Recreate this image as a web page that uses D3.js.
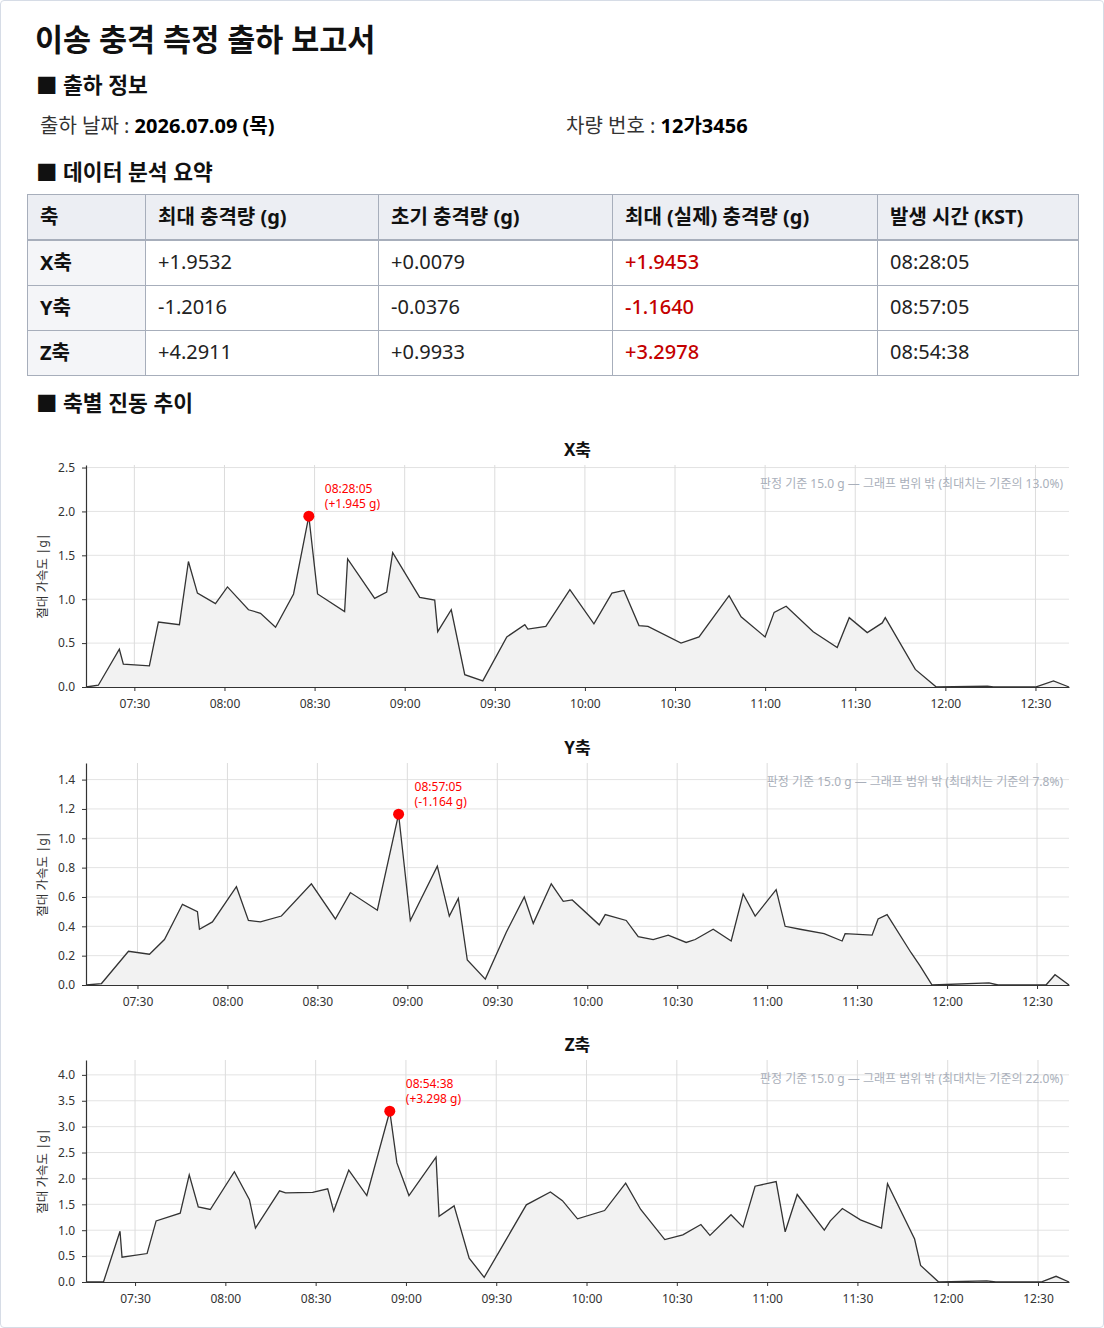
<!DOCTYPE html>
<html>
<head>
<meta charset="utf-8">
<script src="https://cdn.jsdelivr.net/npm/d3@7"></script>
<style>
body { margin: 0; background: #fff; font-family: "Noto Sans", "Noto Sans CJK KR", sans-serif; color: #111; }
#page { position: relative; width: 1102px; height: 1326px; border: 1px solid #d6dce6; border-radius: 4px; background: #fff; overflow: hidden; }
.h { position: absolute; left: 34px; white-space: nowrap; font-weight: bold; }
.title { top: 18px; font-size: 30.5px; line-height: 40px; }
.sec { font-size: 21.5px; line-height: 30px; left: 35px; }
.info { position: absolute; top: 110px; font-size: 20px; line-height: 30px; color: #333; white-space: nowrap; }
.info b { color: #000; }
table { position: absolute; left: 26px; top: 193px; width: 1051px; border-collapse: collapse; font-size: 20px; table-layout: fixed; }
th, td { border: 1px solid #a7aebb; padding: 0 12px 3px 12px; text-align: left; white-space: nowrap; }
th { background: #eceef3; height: 41px; border-bottom: 2px solid #a7aebb; }
td { height: 41px; color: #222; }
td.ax { background: #f4f5f8; font-weight: bold; color: #111; }
td.peak { color: #c40000; font-weight: 500; }
svg text { font-family: "Noto Sans", "Noto Sans CJK KR", sans-serif; }
</style>
</head>
<body>
<div id="page"></div>
<script>
// 출하 정보
const shipDate = "2026.07.09 (목)";
const vehicleNo = "12가3456";

// 요약 표
const tableHeaders = ["축", "최대 충격량 (g)", "초기 충격량 (g)", "최대 (실제) 충격량 (g)", "발생 시간 (KST)"];
const axisNames = ["X축", "Y축", "Z축"];
const maxImpact = ["+1.9532", "-1.2016", "+4.2911"];
const initImpact = ["+0.0079", "-0.0376", "+0.9933"];
const realPeak = [1.9453, -1.1640, 3.2978];
const peakTimes = ["08:28:05", "08:57:05", "08:54:38"];
const threshold = 15.0;

// 축별 진동 추이 (절대 가속도 |g|)
const xTimes = ["07:13:54","07:18:00","07:25:00","07:26:20","07:35:00","07:38:00","07:45:00","07:48:00","07:51:00","07:57:00",
  "08:01:00","08:08:00","08:12:00","08:17:00","08:23:00","08:28:05","08:31:00","08:40:00","08:41:00","08:50:00",
  "08:54:00","08:56:00","09:05:00","09:10:00","09:11:00","09:15:30","09:20:00","09:26:00","09:34:00","09:40:00",
  "09:41:00","09:47:00","09:55:00","10:03:00","10:09:00","10:13:00","10:18:00","10:21:00","10:32:00","10:38:00",
  "10:48:00","10:52:00","11:00:00","11:03:00","11:07:00","11:16:00","11:24:00","11:28:00","11:34:00","11:39:00",
  "11:40:00","11:50:00","11:57:00","12:14:00","12:16:00","12:30:00","12:36:00","12:41:10"];
const xVals = [0.0,0.02,0.43,0.26,0.24,0.74,0.71,1.43,1.07,0.95,
  1.14,0.88,0.84,0.68,1.06,1.9453,1.06,0.86,1.46,1.01,
  1.08,1.53,1.02,0.99,0.63,0.88,0.14,0.07,0.57,0.71,
  0.66,0.69,1.11,0.72,1.07,1.10,0.70,0.69,0.50,0.57,
  1.04,0.80,0.57,0.85,0.92,0.63,0.45,0.79,0.62,0.73,
  0.79,0.20,0.0,0.01,0.0,0.0,0.07,0.0];

const yTimes = ["07:12:50","07:18:00","07:27:00","07:34:00","07:39:00","07:45:00","07:50:00","07:50:40","07:55:00","08:03:00",
  "08:07:00","08:11:00","08:18:00","08:28:00","08:36:00","08:41:00","08:50:00","08:57:05","09:01:00","09:10:00",
  "09:14:00","09:17:00","09:20:00","09:26:00","09:33:00","09:39:00","09:42:00","09:48:00","09:52:00","09:55:00",
  "10:04:00","10:06:00","10:13:00","10:17:00","10:22:00","10:27:00","10:33:00","10:36:00","10:42:00","10:48:00",
  "10:52:00","10:56:00","11:03:00","11:06:00","11:11:00","11:19:00","11:25:00","11:26:00","11:35:00","11:37:00",
  "11:40:00","11:48:00","11:51:00","11:55:00","12:14:00","12:17:00","12:33:00","12:36:00","12:40:40"];
const yVals = [0.0,0.01,0.23,0.21,0.31,0.55,0.50,0.38,0.43,0.67,
  0.44,0.43,0.47,0.69,0.45,0.63,0.51,1.164,0.44,0.81,
  0.47,0.59,0.17,0.04,0.36,0.60,0.42,0.69,0.57,0.58,
  0.41,0.48,0.44,0.33,0.31,0.34,0.29,0.31,0.38,0.30,
  0.62,0.47,0.65,0.40,0.38,0.35,0.30,0.35,0.34,0.45,
  0.48,0.22,0.13,0.0,0.015,0.0,0.0,0.07,0.0];

const zTimes = ["07:13:42","07:19:30","07:25:00","07:25:40","07:34:00","07:37:00","07:45:00","07:48:00","07:51:00","07:55:00",
  "08:03:00","08:08:00","08:10:00","08:18:00","08:20:00","08:29:00","08:34:00","08:36:00","08:41:00","08:47:00",
  "08:54:38","08:57:00","09:01:00","09:10:00","09:11:00","09:16:00","09:21:00","09:26:00","09:33:00","09:40:00",
  "09:48:00","09:52:00","09:57:00","10:06:00","10:13:00","10:18:00","10:26:00","10:32:00","10:38:00","10:41:00",
  "10:48:00","10:52:00","10:56:00","11:03:00","11:06:00","11:10:00","11:19:00","11:21:00","11:25:00","11:31:00",
  "11:38:00","11:40:00","11:49:00","11:51:00","11:57:00","12:13:00","12:16:00","12:31:00","12:36:00","12:40:18"];
const zVals = [0.0,0.0,0.98,0.48,0.55,1.18,1.33,2.07,1.45,1.40,
  2.13,1.59,1.04,1.76,1.72,1.73,1.80,1.37,2.16,1.67,
  3.2978,2.30,1.67,2.41,1.27,1.47,0.46,0.09,0.79,1.49,
  1.74,1.57,1.22,1.38,1.91,1.40,0.82,0.91,1.11,0.90,
  1.30,1.06,1.85,1.94,0.97,1.69,1.00,1.18,1.42,1.20,
  1.04,1.90,0.83,0.32,0.0,0.02,0.0,0.0,0.11,0.0];

const page = d3.select("#page");

page.append("div").attr("class", "h title").text("이송 충격 측정 출하 보고서");
page.append("div").attr("class", "h sec").style("top", "69px").text("■ 출하 정보");
page.append("div").attr("class", "info").style("left", "39px").html("출하 날짜 : <b>" + shipDate + "</b>");
page.append("div").attr("class", "info").style("left", "565px").html("차량 번호 : <b>" + vehicleNo + "</b>");
page.append("div").attr("class", "h sec").style("top", "156px").text("■ 데이터 분석 요약");
page.append("div").attr("class", "h sec").style("top", "387px").text("■ 축별 진동 추이");

// 표
function signed(v, n) { return (v < 0 ? "-" : "+") + Math.abs(v).toFixed(n); }

const table = page.append("table");
table.append("colgroup").selectAll("col")
  .data([118, 233, 234, 265, 201])
  .join("col").style("width", d => d + "px");
table.append("thead").append("tr").selectAll("th")
  .data(tableHeaders).join("th").text(d => d);
const rows = table.append("tbody").selectAll("tr")
  .data(axisNames).join("tr");
rows.append("td").attr("class", "ax").text(d => d);
rows.append("td").text((d, i) => maxImpact[i]);
rows.append("td").text((d, i) => initImpact[i]);
rows.append("td").attr("class", "peak").text((d, i) => signed(realPeak[i], 4));
rows.append("td").text((d, i) => peakTimes[i]);

// 차트
const parseT = d3.utcParse("%H:%M:%S");
const series = [
  { times: xTimes, vals: xVals },
  { times: yTimes, vals: yVals },
  { times: zTimes, vals: zVals }
];

const svg = page.append("svg")
  .style("position", "absolute").style("left", "0px").style("top", "430px")
  .attr("width", 1104).attr("height", 898);

const left = 85, right = 1068, ph = 222;
const tops = [34, 332, 629];

series.forEach((s, i) => {
  const data = s.times.map((t, k) => ({ t: parseT(t), v: s.vals[k] }));
  const peak = Math.abs(realPeak[i]);

  const x = d3.scaleUtc()
    .domain(d3.extent(data, d => d.t))
    .range([left, right]);
  const y = d3.scaleLinear()
    .domain([0, peak * 1.3])
    .range([ph, 0]);

  const g = svg.append("g").attr("transform", `translate(0,${tops[i]})`);

  const xt = x.ticks(d3.utcMinute.every(30));
  const yt = y.ticks(7);

  // grid
  g.append("g").selectAll("line").data(yt).join("line")
    .attr("x1", left).attr("x2", right)
    .attr("y1", d => y(d)).attr("y2", d => y(d))
    .attr("stroke", "#e3e3e3").attr("stroke-width", 1);
  g.append("g").selectAll("line").data(xt).join("line")
    .attr("x1", d => x(d)).attr("x2", d => x(d))
    .attr("y1", 0).attr("y2", ph)
    .attr("stroke", "#dcdcdc").attr("stroke-width", 1);

  // area + line
  g.append("path")
    .attr("d", d3.area().x(d => x(d.t)).y0(y(0)).y1(d => y(d.v))(data))
    .attr("fill", "#f2f2f2");
  g.append("path")
    .attr("d", d3.line().x(d => x(d.t)).y(d => y(d.v))(data))
    .attr("fill", "none").attr("stroke", "#333").attr("stroke-width", 1.3);

  // axes
  const ax = g.append("g").attr("transform", `translate(0,${ph})`)
    .call(d3.axisBottom(x).tickValues(xt).tickFormat(d3.utcFormat("%H:%M")).tickSize(4).tickSizeOuter(0).tickPadding(8));
  const ay = g.append("g").attr("transform", `translate(${left},0)`)
    .call(d3.axisLeft(y).tickValues(yt).tickFormat(d3.format(".1f")).tickSize(4).tickSizeOuter(0).tickPadding(7));
  [ax, ay].forEach(a => {
    a.select(".domain").attr("stroke", "#333").attr("stroke-width", 1.2);
    a.selectAll(".tick line").attr("stroke", "#333");
    a.selectAll(".tick text").attr("fill", "#333").style("font-size", "12px");
  });

  // titles
  g.append("text")
    .attr("x", (left + right) / 2).attr("y", -9)
    .attr("text-anchor", "middle")
    .style("font-size", "17px").style("font-weight", "bold").attr("fill", "#111")
    .text(axisNames[i]);
  g.append("text")
    .attr("transform", `translate(46,${ph / 2}) rotate(-90)`)
    .attr("text-anchor", "middle")
    .style("font-size", "12.5px").attr("fill", "#333")
    .text("절대 가속도 |g|");
  g.append("text")
    .attr("x", right - 6).attr("y", 23)
    .attr("text-anchor", "end")
    .style("font-size", "12px").attr("fill", "#a9afba")
    .text(`판정 기준 ${threshold.toFixed(1)} g — 그래프 범위 밖 (최대치는 기준의 ${(peak / threshold * 100).toFixed(1)}%)`);

  // peak marker
  const pt = parseT(peakTimes[i]);
  const px = x(pt), py = y(peak);
  g.append("circle").attr("cx", px).attr("cy", py).attr("r", 5.5).attr("fill", "#ff0000");
  const lbl = g.append("text")
    .attr("x", px + 16).attr("y", py - 23)
    .style("font-size", "12px").attr("fill", "#ff0000");
  lbl.append("tspan").attr("x", px + 16).text(peakTimes[i]);
  lbl.append("tspan").attr("x", px + 16).attr("dy", 15).text(`(${signed(realPeak[i], 3)} g)`);
});
</script>
</body>
</html>
